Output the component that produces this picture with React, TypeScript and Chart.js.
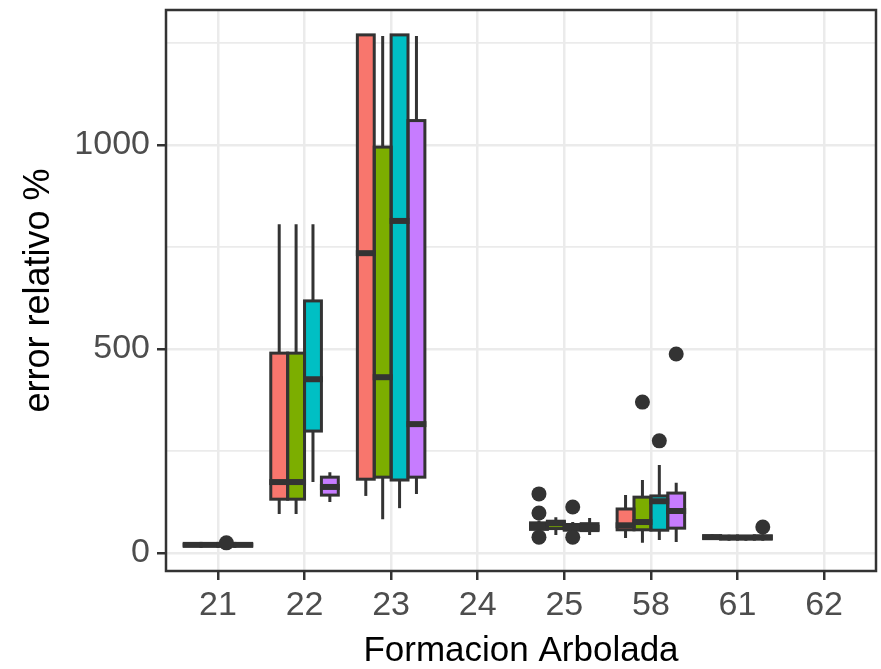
import React, { useEffect, useRef } from 'react';
import { Chart, registerables } from 'chart.js';

Chart.register(...registerables);

const categories = ['21', '22', '23', '24', '25', '58', '61', '62'];
const groupNames = ['A', 'B', 'C', 'D'];
const colors = ['#F8766D', '#7CAE00', '#00BFC4', '#C77CFF'];

// one row per group, one column per category (null = no box)
const lowerWhisker: (number | null)[][] = [
  [18, 96, 140, null, 50, 37, 32, null],
  [18, 96, 83, null, 44, 25, 30, null],
  [18, 174, 110, null, 50, 32, 30, null],
  [18, 125, 145, null, 44, 27, 30, null],
];
const q1: (number | null)[][] = [
  [19, 132, 181, null, 58, 57, 36, null],
  [19, 132, 186, null, 60, 57, 35, null],
  [19, 299, 179, null, 56, 56, 35, null],
  [19, 142, 186, null, 55, 61, 35, null],
];
const median: (number | null)[][] = [
  [20, 174, 735, null, 66, 68, 39, null],
  [20, 174, 431, null, 73, 76, 38, null],
  [20, 426, 814, null, 62, 127, 38, null],
  [20, 162, 316, null, 62, 103, 38, null],
];
const q3: (number | null)[][] = [
  [21, 490, 1270, null, 74, 108, 42, null],
  [21, 490, 995, null, 78, 137, 41, null],
  [21, 618, 1270, null, 70, 140, 41, null],
  [21, 186, 1060, null, 72, 147, 42, null],
];
const upperWhisker: (number | null)[][] = [
  [22, 806, 1270, null, 80, 142, 46, null],
  [22, 806, 1267, null, 88, 179, 45, null],
  [22, 806, 1270, null, 76, 216, 44, null],
  [22, 198, 1267, null, 86, 172, 46, null],
];
// [category index, value]
const outliers: [number, number][][] = [
  [[4, 145], [4, 98], [4, 39]],
  [[5, 370]],
  [[0, 25], [4, 113], [4, 39], [5, 275]],
  [[5, 488], [6, 64]],
];

const yTicks = [0, 250, 500, 750, 1000, 1250];
const yLabelled = [0, 500, 1000];

const INK = '#333333';
const FONT = "'Liberation Sans', Arial, sans-serif";

const presentCats = q1.map((row) =>
  row.map((v, i) => (v === null ? -1 : i)).filter((i) => i >= 0)
);

const boxPlugin = {
  id: 'boxParts',
  beforeDatasetsDraw(chart: any) {
    const ctx = chart.ctx;
    const ys = chart.scales.y;
    ctx.save();
    ctx.strokeStyle = INK;
    ctx.lineWidth = 3;
    chart.data.datasets.forEach((_ds: any, g: number) => {
      const meta = chart.getDatasetMeta(g);
      meta.data.forEach((el: any, j: number) => {
        const c = presentCats[g][j];
        const x = el.x;
        ctx.beginPath();
        ctx.moveTo(x, ys.getPixelForValue(q3[g][c] as number));
        ctx.lineTo(x, ys.getPixelForValue(upperWhisker[g][c] as number));
        ctx.moveTo(x, ys.getPixelForValue(q1[g][c] as number));
        ctx.lineTo(x, ys.getPixelForValue(lowerWhisker[g][c] as number));
        ctx.stroke();
      });
    });
    ctx.restore();
  },
  afterDatasetsDraw(chart: any) {
    const ctx = chart.ctx;
    const ys = chart.scales.y;
    ctx.save();
    chart.data.datasets.forEach((_ds: any, g: number) => {
      const meta = chart.getDatasetMeta(g);
      const xByCat: Record<number, number> = {};
      meta.data.forEach((el: any, j: number) => {
        const c = presentCats[g][j];
        xByCat[c] = el.x;
        const w = el.width;
        const top = Math.min(el.y, el.base);
        const h = Math.abs(el.base - el.y);
        ctx.strokeStyle = INK;
        ctx.lineWidth = 3;
        ctx.strokeRect(el.x - w / 2, top, w, h);
        const my = ys.getPixelForValue(median[g][c] as number);
        ctx.lineWidth = 6;
        ctx.beginPath();
        ctx.moveTo(el.x - w / 2 - 1.5, my);
        ctx.lineTo(el.x + w / 2 + 1.5, my);
        ctx.stroke();
      });
      ctx.fillStyle = INK;
      outliers[g].forEach(([c, v]) => {
        const x = xByCat[c];
        if (x === undefined) return;
        ctx.beginPath();
        ctx.arc(x, ys.getPixelForValue(v), 7.5, 0, Math.PI * 2);
        ctx.fill();
      });
    });
    ctx.restore();
  },
  afterDraw(chart: any) {
    const { left, top, right, bottom } = chart.chartArea;
    const ctx = chart.ctx;
    ctx.save();
    ctx.strokeStyle = INK;
    ctx.lineWidth = 2.5;
    ctx.strokeRect(left, top, right - left, bottom - top);
    ctx.restore();
  },
};

export default function App() {
  const ref = useRef<HTMLCanvasElement | null>(null);

  useEffect(() => {
    if (!ref.current) return;
    const datasets = groupNames.map((name, g) => ({
      label: name,
      data: presentCats[g].map((c) => ({ x: c, y: [q1[g][c], q3[g][c]] })),
      backgroundColor: colors[g],
      borderWidth: 0,
      borderSkipped: false,
      inflateAmount: 0,
      categoryPercentage: 0.78,
      barPercentage: 1,
    }));

    const chart = new Chart(ref.current, {
      type: 'bar',
      data: { datasets } as any,
      plugins: [boxPlugin],
      options: {
        responsive: false,
        animation: false,
        events: [],
        layout: { padding: { top: 10, right: 5, left: 0, bottom: 0 } },
        plugins: { legend: { display: false }, tooltip: { enabled: false } },
        scales: {
          x: {
            type: 'linear',
            min: -0.6,
            max: 7.6,
            offset: false,
            afterBuildTicks: (scale: any) => {
              scale.ticks = categories.map((_c, i) => ({ value: i }));
            },
            afterFit: (scale: any) => {
              scale.height = 98;
              scale.paddingLeft = 0;
              scale.paddingRight = 0;
            },
            ticks: {
              callback: (v: any) => categories[Math.round(Number(v))] ?? '',
              color: '#4D4D4D',
              font: { family: FONT, size: 34, lineHeight: 1 },
              padding: 9,
              maxRotation: 0,
              autoSkip: false,
            },
            grid: {
              color: '#EBEBEB',
              lineWidth: 2.5,
              drawTicks: true,
              tickLength: 9,
              tickColor: INK,
              tickWidth: 2.5,
              offset: false,
            },
            border: { display: false },
            title: {
              display: true,
              text: 'Formacion Arbolada',
              color: '#000000',
              font: { family: FONT, size: 35, lineHeight: 1 },
              padding: { top: 2, bottom: 0 },
            },
          },
          y: {
            type: 'linear',
            min: -44,
            max: 1331,
            afterBuildTicks: (scale: any) => {
              scale.ticks = yTicks.map((v) => ({ value: v }));
            },
            afterFit: (scale: any) => {
              scale.width = 166;
              scale.paddingTop = 0;
              scale.paddingBottom = 0;
            },
            ticks: {
              callback: (v: any) => (yLabelled.includes(Number(v)) ? String(v) : ''),
              color: '#4D4D4D',
              font: { family: FONT, size: 34, lineHeight: 1 },
              padding: 7,
              autoSkip: false,
            },
            grid: {
              color: '#EBEBEB',
              lineWidth: (ctx: any) =>
                ctx.tick && yLabelled.includes(ctx.tick.value) ? 2.5 : 1.8,
              drawTicks: true,
              tickLength: 9,
              tickColor: (ctx: any) =>
                ctx.tick && yLabelled.includes(ctx.tick.value) ? INK : 'rgba(0,0,0,0)',
              tickWidth: 2.5,
            },
            border: { display: false },
            title: {
              display: true,
              text: 'error relativo %',
              color: '#000000',
              font: { family: FONT, size: 36, lineHeight: 1 },
              padding: { top: 21.5, bottom: 0 },
            },
          },
        },
      } as any,
    });
    return () => chart.destroy();
  }, []);

  return (
    <div style={{ position: 'fixed', left: 0, top: 0, width: 881, height: 669, background: '#ffffff' }}>
      <canvas ref={ref} width={881} height={669} style={{ display: 'block' }} />
    </div>
  );
}
